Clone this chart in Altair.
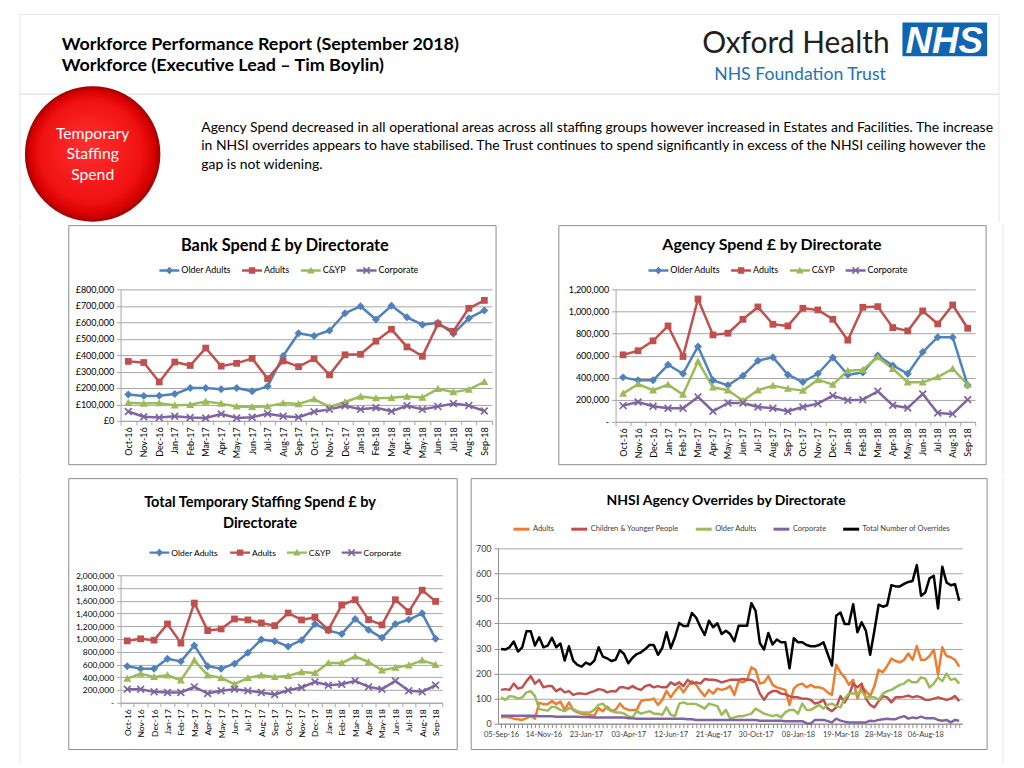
import json
import altair as alt
import pandas as pd

FONT = "Lato"

# ---------------- data ----------------
months = ["Oct-16", "Nov-16", "Dec-16", "Jan-17", "Feb-17", "Mar-17", "Apr-17", "May-17",
          "Jun-17", "Jul-17", "Aug-17", "Sep-17", "Oct-17", "Nov-17", "Dec-17", "Jan-18",
          "Feb-18", "Mar-18", "Apr-18", "May-18", "Jun-18", "Jul-18", "Aug-18", "Sep-18"]
monthly_series = ["Older Adults", "Adults", "C&YP", "Corporate"]
monthly_colors = ["#4F81BD", "#C0504D", "#9BBB59", "#8064A2"]

bank_older = [160000, 152000, 153000, 163000, 200000, 200000, 193000, 200000, 180000, 210000, 395000, 533000,
              517000, 550000, 655000, 697000, 617000, 700000, 630000, 585000, 597000, 530000, 625000, 672000]
bank_adults = [362000, 355000, 237000, 358000, 337000, 443000, 333000, 350000, 380000, 257000, 365000, 330000,
               378000, 280000, 402000, 405000, 485000, 557000, 450000, 393000, 590000, 545000, 685000, 733000]
bank_cyp = [110000, 105000, 108000, 95000, 98000, 118000, 105000, 88000, 85000, 88000, 108000, 103000,
            132000, 85000, 115000, 148000, 138000, 140000, 148000, 142000, 195000, 175000, 190000, 238000]
bank_corp = [57000, 25000, 20000, 28000, 20000, 17000, 42000, 18000, 22000, 43000, 28000, 22000,
             55000, 70000, 92000, 70000, 80000, 58000, 92000, 70000, 88000, 105000, 93000, 60000]

agency_older = [403000, 376000, 376000, 517000, 436000, 683000, 376000, 331000, 418000, 553000, 586000, 427000,
                361000, 436000, 583000, 427000, 448000, 601000, 511000, 436000, 632000, 767000, 767000, 331000]
agency_adults = [607000, 644000, 734000, 869000, 592000, 1113000, 788000, 803000, 929000, 1041000, 884000, 869000,
                 1029000, 1014000, 929000, 740000, 1038000, 1044000, 854000, 824000, 1005000, 887000, 1059000, 848000]
agency_cyp = [256000, 343000, 286000, 337000, 247000, 547000, 313000, 286000, 192000, 286000, 328000, 301000,
              283000, 382000, 337000, 463000, 472000, 586000, 481000, 358000, 358000, 406000, 481000, 337000]
agency_corp = [147000, 180000, 141000, 123000, 123000, 226000, 96000, 171000, 171000, 135000, 123000, 96000,
               135000, 165000, 238000, 195000, 201000, 277000, 150000, 126000, 253000, 81000, 72000, 201000]

total_older = [571000, 535000, 535000, 691000, 649000, 899000, 571000, 535000, 613000, 784000, 992000, 966000,
               883000, 982000, 1236000, 1132000, 1080000, 1314000, 1143000, 1018000, 1236000, 1304000, 1403000, 1003000]
total_adults = [971000, 1003000, 982000, 1236000, 935000, 1564000, 1132000, 1158000, 1314000, 1299000, 1252000, 1210000,
                1408000, 1299000, 1340000, 1143000, 1532000, 1616000, 1304000, 1221000, 1616000, 1429000, 1766000, 1590000]
total_cyp = [379000, 457000, 405000, 431000, 353000, 665000, 431000, 390000, 291000, 390000, 431000, 405000,
             421000, 483000, 468000, 623000, 623000, 727000, 639000, 509000, 551000, 587000, 665000, 597000]
total_corp = [213000, 213000, 171000, 161000, 161000, 249000, 145000, 187000, 213000, 187000, 161000, 130000,
              197000, 239000, 327000, 275000, 291000, 343000, 249000, 213000, 343000, 187000, 171000, 275000]

nhsi_series = ["Adults", "Children & Younger People", "Older Adults", "Corporate", "Total Number of Overrides"]
nhsi_colors = ["#ED7D31", "#C0504D", "#9BBB59", "#8064A2", "#000000"]
nhsi_tick_labels = ["05-Sep-16", "14-Nov-16", "23-Jan-17", "03-Apr-17", "12-Jun-17", "21-Aug-17",
                    "30-Oct-17", "08-Jan-18", "19-Mar-18", "28-May-18", "06-Aug-18"]

nhsi_adults = [25, 28, 25, 20, 18, 15, 22, 30, 20,
               83, 78, 78, 90, 78, 88, 55, 85, 55, 45, 40,
               38, 35, 32, 62, 50, 68, 52, 55, 80, 62,
               55, 55, 55, 90, 95, 95, 100, 75, 95, 130,
               105, 130, 150, 125, 150, 170, 155, 130, 110, 135,
               120, 140, 135, 140, 150, 115, 170, 165, 175, 225,
               215, 160, 165, 190, 155, 145, 140, 135, 75, 140,
               155, 160, 145, 155, 145, 145, 140, 125, 115, 235,
               205, 185, 155, 175, 100, 150, 130, 110, 150, 215,
               205, 230, 260, 250, 245, 255, 280, 255, 310, 255,
               255, 270, 295, 195, 305, 270, 265, 255, 228]
nhsi_cyp = [135, 138, 135, 160, 140, 145, 170, 190, 160, 175,
            145, 150, 150, 130, 140, 125, 130, 115, 120, 120,
            118, 125, 130, 138, 135, 125, 130, 128, 145, 145,
            140, 150, 140, 135, 150, 155, 145, 150, 145, 145,
            165, 155, 165, 150, 175, 160, 165, 160, 178, 175,
            175, 172, 165, 170, 175, 175, 175, 178, 175, 175,
            165, 120, 95, 120, 130, 130, 120, 118, 110, 105,
            105, 100, 100, 95, 80, 85, 95, 60, 50, 65,
            110, 85, 115, 160, 145, 160, 100, 75, 65, 90,
            110, 105, 85, 105, 105, 108, 112, 105, 110, 105,
            95, 95, 100, 105, 100, 95, 100, 110, 90]
nhsi_older = [105, 95, 110, 108, 100, 105, 125, 130, 110, 58,
              55, 52, 68, 65, 55, 50, 62, 58, 50, 45,
              45, 45, 55, 75, 80, 60, 50, 45, 45, 40,
              30, 25, 50, 40, 45, 50, 40, 40, 35, 65,
              35, 30, 80, 85, 78, 80, 78, 70, 60, 80,
              75, 70, 35, 55, 20, 25, 30, 30, 35, 40,
              60, 50, 40, 35, 30, 35, 25, 45, 55, 55,
              40, 80, 55, 55, 65, 75, 60, 75, 80, 70,
              65, 100, 120, 120, 120, 130, 105, 105, 105, 95,
              120, 130, 135, 145, 155, 160, 175, 165, 165, 185,
              180, 145, 160, 185, 170, 200, 175, 180, 160]
nhsi_corp = [32, 32, 32, 32, 32, 32, 32, 32, 32, 30,
             30, 30, 30, 28, 28, 28, 28, 28, 28, 27,
             27, 26, 25, 25, 25, 25, 25, 25, 25, 25,
             22, 22, 20, 20, 20, 20, 20, 20, 20, 20,
             20, 20, 20, 20, 18, 18, 15, 15, 15, 15,
             15, 15, 15, 15, 15, 15, 15, 15, 15, 15,
             15, 12, 12, 12, 12, 12, 12, 10, 10, 10,
             10, 10, 2, 0, 15, 15, 15, 10, 5, 20,
             12, 8, 5, 5, 5, 5, 5, 12, 10, 15,
             18, 20, 18, 18, 25, 30, 20, 25, 22, 28,
             22, 22, 22, 15, 12, 15, 5, 15, 12]
nhsi_total = [298, 296, 305, 328, 288, 305, 369, 369, 312, 345,
              305, 312, 343, 305, 320, 252, 309, 252, 235, 228,
              244, 236, 252, 305, 268, 261, 250, 255, 293, 278,
              241, 263, 278, 285, 298, 314, 314, 275, 302, 365,
              302, 345, 402, 390, 390, 442, 423, 386, 354, 411,
              385, 401, 358, 371, 358, 329, 391, 391, 391, 481,
              450, 322, 296, 362, 316, 336, 325, 325, 221, 341,
              325, 325, 314, 309, 309, 314, 325, 278, 232, 431,
              444, 398, 398, 477, 365, 405, 371, 275, 371, 475,
              467, 473, 553, 548, 548, 558, 566, 570, 633, 511,
              524, 580, 590, 460, 627, 564, 553, 557, 491]

header_lines = ["Workforce Performance Report (September 2018)", "Workforce (Executive Lead \u2013 Tim Boylin)"]
circle_lines = ["Temporary", "Staffing", "Spend"]
paragraph_lines = [
    "Agency Spend decreased in all operational areas across all staffing groups however increased in Estates and Facilities. The increase",
    "in NHSI overrides appears to have stabilised. The Trust continues to spend significantly in excess of the NHSI ceiling however  the",
    "gap is not widening.",
]

# ---------------- helpers ----------------
BLANK = alt.Data(values=[{}])


def text_layer(x, y, text, **kw):
    return alt.Chart(BLANK).mark_text(**kw).encode(x=alt.value(x), y=alt.value(y), text=alt.value(text))


def rule_layer(x, y, x2=None, y2=None, color="#dddddd", width=1):
    enc = dict(x=alt.value(x), y=alt.value(y))
    if x2 is not None:
        enc["x2"] = alt.value(x2)
    if y2 is not None:
        enc["y2"] = alt.value(y2)
    return alt.Chart(BLANK).mark_rule(color=color, strokeWidth=width).encode(**enc)


def rect_layer(x, x2, y, y2, **kw):
    return alt.Chart(BLANK).mark_rect(**kw).encode(x=alt.value(x), x2=alt.value(x2), y=alt.value(y), y2=alt.value(y2))


marker_pts = [
    [(0, -1), (1, 0), (0, 1), (-1, 0)],                                   # diamond
    [(-0.85, -0.85), (0.85, -0.85), (0.85, 0.85), (-0.85, 0.85)],         # square
    [(0, -1), (1, 0.8), (-1, 0.8)],                                       # triangle
    [(-1, -0.7), (-0.7, -1), (0, -0.3), (0.7, -1), (1, -0.7), (0.3, 0),
     (1, 0.7), (0.7, 1), (0, 0.3), (-0.7, 1), (-1, 0.7), (-0.3, 0)],      # x
]


def poly(pts, s=1.0):
    return "M" + "L".join(f"{px * s:.3f},{py * s:.3f}" for px, py in pts) + "Z"


LINE_BAR = "M-1,-0.12L1,-0.12L1,0.12L-1,0.12Z"
chart_shapes = [poly(p) for p in marker_pts]
legend_shapes = [LINE_BAR + poly(p, 0.38) for p in marker_pts]


def monthly_panel(vals, W, H, ymax, ystep, label_expr, border, title, title_xy, title_size,
                  legend_xy, legend_font, tick_font):
    df = pd.DataFrame([{"month": m, "series": s, "value": v}
                       for s, arr in zip(monthly_series, vals) for m, v in zip(months, arr)])
    bx0, bx1, by0, by1 = border
    frame = rect_layer(bx0, bx1, by0, by1, fill="white", fillOpacity=0, stroke="#8c8c8c", strokeWidth=1)
    ttl = text_layer(title_xy[0], title_xy[1], title, font=FONT, fontSize=title_size, fontWeight="bold",
                     align="center", baseline="alphabetic", color="#000000", lineHeight=title_size * 1.5)
    x = alt.X("month:N", sort=months, title=None,
              scale=alt.Scale(type="band", paddingInner=0, paddingOuter=0),
              axis=alt.Axis(labelAngle=-90, tickBand="extent", tickSize=4, tickColor="#a6a6a6",
                            domainColor="#a6a6a6", labelFont=FONT, labelFontSize=tick_font,
                            labelColor="#000000", labelPadding=2, grid=False))
    y = alt.Y("value:Q", title=None, scale=alt.Scale(domain=[0, ymax], nice=False),
              axis=alt.Axis(values=list(range(0, ymax + 1, ystep)), labelExpr=label_expr, grid=True,
                            gridColor="#a6a6a6", domainColor="#a6a6a6", tickColor="#a6a6a6", tickSize=4,
                            labelFont=FONT, labelFontSize=tick_font, labelColor="#000000", labelPadding=3))
    color = alt.Color("series:N", scale=alt.Scale(domain=monthly_series, range=monthly_colors), legend=None)
    base = alt.Chart(df).encode(x=x, y=y, color=color)
    lines = base.mark_line(strokeWidth=2.5, strokeJoin="round")
    pts = base.mark_point(filled=True, opacity=1, size=64).encode(
        shape=alt.Shape("series:N", scale=alt.Scale(domain=monthly_series, range=chart_shapes), legend=None))
    leg = alt.Legend(orient="none", legendX=legend_xy[0], legendY=legend_xy[1], direction="horizontal",
                     title=None, symbolSize=400, symbolStrokeWidth=0, labelFont=FONT,
                     labelFontSize=legend_font, labelColor="#000000", labelOffset=2, columnPadding=11,
                     padding=0)
    legend_layer = alt.Chart(df).transform_filter("false").mark_point(filled=True, opacity=1).encode(
        shape=alt.Shape("series:N", scale=alt.Scale(domain=monthly_series, range=legend_shapes), legend=leg),
        fill=alt.Fill("series:N", scale=alt.Scale(domain=monthly_series, range=monthly_colors), legend=leg))
    return alt.layer(frame, ttl, lines, pts, legend_layer).resolve_scale(
        shape="independent", fill="independent").properties(width=W, height=H)


bank_expr = "'\u00a3' + format(datum.value, ',')"
dash_expr = "datum.value == 0 ? '-' : format(datum.value, ',')"

p1 = monthly_panel([bank_older, bank_adults, bank_cyp, bank_corp], 373, 132, 800000, 100000, bank_expr,
                   (-52, 377, -64, 176), "Bank Spend \u00a3 by Directorate", (165, -39), 16.4,
                   (39, -29), 9, 9)
p2 = monthly_panel([agency_older, agency_adults, agency_cyp, agency_corp], 361, 133, 1200000, 200000, dash_expr,
                   (-57, 372, -64, 176), "Agency Spend \u00a3 by Directorate", (157, -40), 16,
                   (33, -29), 9, 9)
p3 = monthly_panel([total_older, total_adults, total_cyp, total_corp], 323, 128, 2000000, 200000, dash_expr,
                   (-52, 338, -97, 175), ["Total Temporary Staffing Spend \u00a3 by", "Directorate"], (140, -69),
                   14.6, (29, -33), 8.5, 8.5)

# NHSI weekly chart
nhsi_vals = [nhsi_adults, nhsi_cyp, nhsi_older, nhsi_corp, nhsi_total]
nhsi_df = pd.DataFrame([{"week": i, "series": s, "value": v}
                        for s, arr in zip(nhsi_series, nhsi_vals) for i, v in enumerate(arr)])
n_weeks = len(nhsi_total)
nhsi_label_expr = f"datum.value % 10 == 0 ? {json.dumps(nhsi_tick_labels)}[datum.value / 10] : ''"
nx = alt.X("week:Q", title=None, scale=alt.Scale(domain=[-0.7, n_weeks - 0.3], nice=False, zero=False),
           axis=alt.Axis(values=list(range(n_weeks)), labelExpr=nhsi_label_expr, grid=False, tickSize=4,
                         tickColor="#8c8c8c", domainColor="#8c8c8c", labelOverlap=False, labelFlush=False,
                         labelFont=FONT, labelFontSize=7.5, labelColor="#404040", labelPadding=3, labelAngle=0))
ny = alt.Y("value:Q", title=None, scale=alt.Scale(domain=[0, 700], nice=False),
           axis=alt.Axis(values=list(range(0, 701, 100)), grid=True, gridColor="#a6a6a6", domainColor="#8c8c8c",
                         tickColor="#8c8c8c", tickSize=4, labelFont=FONT, labelFontSize=9,
                         labelColor="#404040", labelPadding=3))
nhsi_lines = alt.Chart(nhsi_df).mark_line(strokeWidth=2.5, strokeJoin="round").encode(
    x=nx, y=ny,
    stroke=alt.Stroke("series:N", sort=nhsi_series, scale=alt.Scale(domain=nhsi_series, range=nhsi_colors),
                      legend=alt.Legend(orient="none", legendX=14, legendY=-29, direction="horizontal", title=None,
                                        symbolType="stroke", symbolSize=256, symbolStrokeWidth=3, labelFont=FONT,
                                        labelFontSize=7.5, labelColor="#404040", labelOffset=2, columnPadding=10,
                                        padding=0)))
p4 = alt.layer(
    rect_layer(-27, 491, -70, 202, fill="white", fillOpacity=0, stroke="#8c8c8c", strokeWidth=1),
    text_layer(229, -44, "NHSI Agency Overrides by Directorate", font=FONT, fontSize=14, fontWeight="bold",
               align="center", baseline="alphabetic", color="#000000"),
    nhsi_lines,
).resolve_scale(stroke="independent").properties(width=466, height=176)

# ---------------- header ----------------
circle_fill = {"gradient": "radial", "x1": 0.45, "y1": 0.42, "r1": 0, "x2": 0.5, "y2": 0.5, "r2": 0.5,
               "stops": [{"offset": 0, "color": "#ff3030"}, {"offset": 0.75, "color": "#f01212"},
                         {"offset": 0.92, "color": "#d60000"}, {"offset": 1, "color": "#a00000"}]}
circle = alt.Chart(BLANK).mark_point(shape="circle", filled=True, size=136 * 136, opacity=1,
                                     fill=circle_fill).encode(x=alt.value(85), y=alt.value(145))

header = alt.layer(
    rule_layer(12, 5, x2=995, color="#e6e6e6"),
    rule_layer(12, 85, x2=995, color="#d9d9d9"),
    rule_layer(12, 5, y2=213, color="#e6e6e6"),
    rule_layer(995, 5, y2=213, color="#e6e6e6"),
    text_layer(54, 41, header_lines[0], font=FONT, fontSize=18, fontWeight="bold", align="left",
               baseline="alphabetic", color="#000000"),
    text_layer(54, 62, header_lines[1], font=FONT, fontSize=18, fontWeight="bold", align="left",
               baseline="alphabetic", color="#000000"),
    text_layer(697, 44, "Oxford Health", font=FONT, fontSize=30, align="left", baseline="alphabetic",
               color="#231f20"),
    text_layer(709, 71, "NHS Foundation Trust", font=FONT, fontSize=17.7, align="left", baseline="alphabetic",
               color="#2372b6"),
    rect_layer(898, 983, 13, 47, color="#0f65b1"),
    text_layer(940, 44, "NHS", font="Liberation Sans", fontSize=37, fontWeight="bold", fontStyle="italic",
               align="center", baseline="alphabetic", color="#ffffff"),
    circle,
    text_layer(85, 130, circle_lines, font=FONT, fontSize=15.8, align="center", baseline="alphabetic",
               color="#ffffff", lineHeight=20.5),
    text_layer(194, 123, paragraph_lines, font=FONT, fontSize=14, align="left", baseline="alphabetic",
               color="#000000", lineHeight=18.5),
).properties(width=1008, height=213)


def side_spacer(w, h, line_x):
    return rule_layer(line_x, 0, y2=h, color="#e6e6e6").properties(width=w, height=h)


def tiny():
    return rect_layer(0, 1, 0, 1, opacity=0).properties(width=1, height=1)


row1 = alt.hconcat(
    side_spacer(60, 252, 12),
    alt.hconcat(alt.vconcat(tiny(), p1, spacing=0), alt.vconcat(tiny(), p2, spacing=0), spacing=61),
    side_spacer(29, 252, 16),
    spacing=0,
)
row2 = alt.hconcat(
    side_spacer(60, 288, 12),
    alt.hconcat(alt.vconcat(tiny(), p3, spacing=0), alt.vconcat(tiny(), p4, spacing=0), spacing=12),
    side_spacer(28, 288, 15),
    spacing=0,
)

chart = alt.vconcat(header, row1, row2, spacing=0).properties(
    padding=0, background="white"
).configure_view(stroke="transparent", strokeWidth=0)

chart.save("out.html", embed_options={"renderer": "svg", "actions": False})
